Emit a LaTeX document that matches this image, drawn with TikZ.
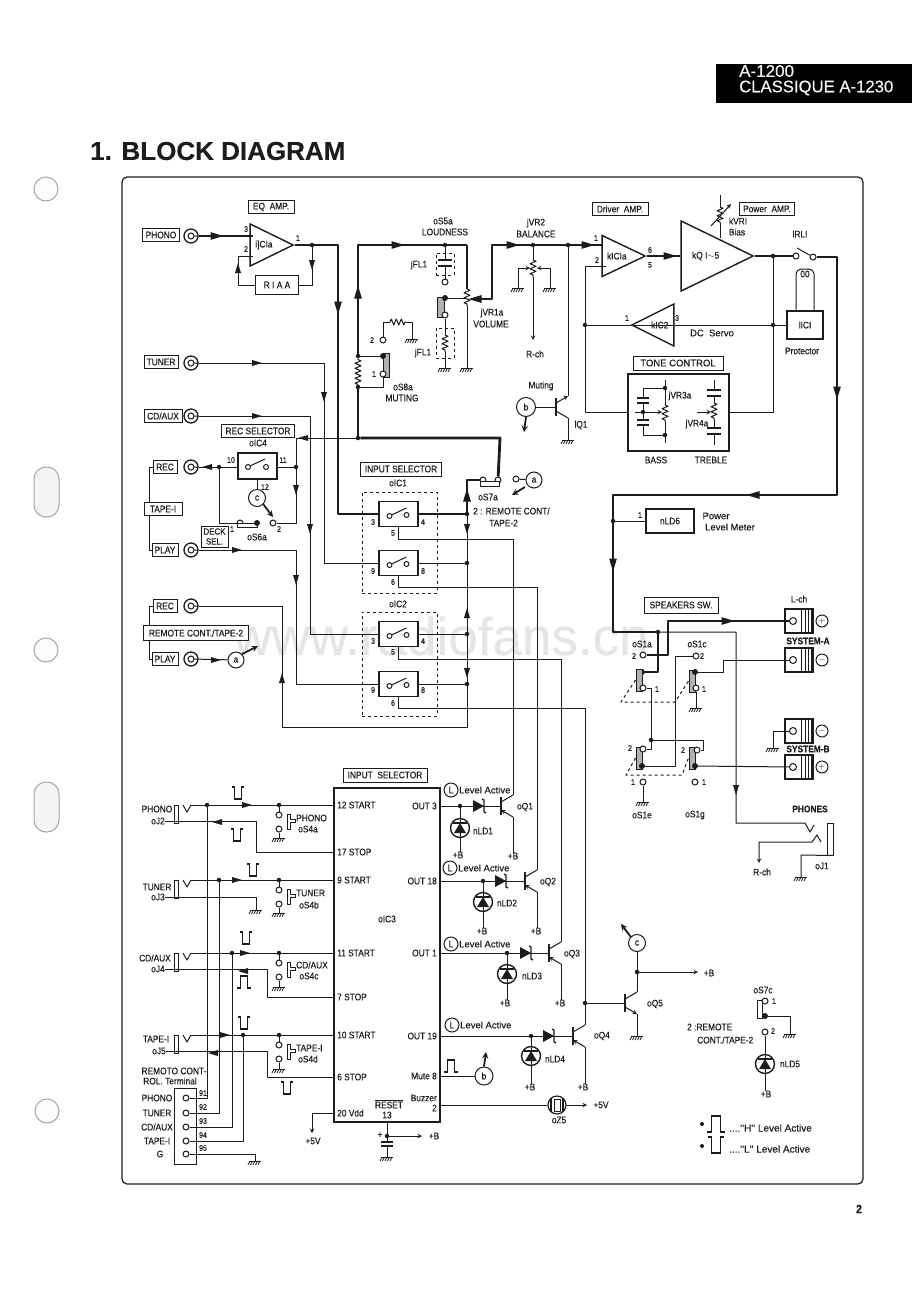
\documentclass[tikz,border=0pt]{standalone}
\usepackage{fontspec}
\setmainfont[FakeStretch=0.88,FakeBold=0.2]{Liberation Sans}
\newfontfamily\widefont[FakeBold=0.2]{Liberation Sans}
\newfontfamily\headfont[FakeBold=0.5]{Liberation Sans}
\usetikzlibrary{shapes.geometric, arrows, decorations.pathmorphing}
\newcommand{\lab}{\fontsize{9.5}{10.5}\selectfont}
\newcommand{\pinf}{\fontsize{8}{9}\selectfont}
\newcommand{\widelab}{\widefont\fontsize{9.5}{10.5}\selectfont}
\definecolor{ink}{HTML}{1C1C1C}
\tikzstyle{wire} = [line width=1pt, draw=ink, line join=round]
\tikzstyle{bus} = [line width=2.8pt, draw=ink, line join=round]
\tikzstyle{arrow} = [line width=1pt, draw=ink, ->, >=stealth]
\tikzstyle{thickarrow} = [line width=1.8pt, draw=ink, ->, >=stealth]
\tikzstyle{txt} = [font=\lab, text=ink, inner sep=0pt, align=center]
\tikzstyle{widetxt} = [font=\widelab, text=ink, inner sep=0pt, align=center]
\tikzstyle{pin} = [font=\pinf, text=ink, inner sep=0pt]
\tikzstyle{tag} = [rectangle, draw=ink, fill=white, line width=1pt, font=\lab, text=ink, inner sep=1pt, minimum height=13pt, align=center]
\tikzstyle{block} = [rectangle, draw=ink, fill=white, line width=1.8pt, font=\lab, text=ink, inner sep=0pt]
\tikzstyle{amp} = [isosceles triangle, isosceles triangle stretches, draw=ink, fill=white, line width=1.4pt, font=\lab, text=ink, inner sep=0pt, anchor=apex]
\tikzstyle{dot} = [circle, fill=ink, inner sep=0pt, minimum size=4.5pt]
\tikzstyle{bigdot} = [circle, fill=ink, inner sep=0pt, minimum size=6pt]
\tikzstyle{contact} = [circle, draw=ink, fill=white, line width=1pt, inner sep=0pt, minimum size=6pt]
\tikzstyle{jack} = [circle, draw=ink, fill=white, line width=1.3pt, inner sep=0pt, minimum size=14pt, path picture={\draw[line width=1pt] (path picture bounding box.center) circle (3) +(3,0) -- +(7,0);}]
\tikzstyle{lettered} = [circle, draw=ink, fill=white, line width=1pt, font=\lab, text=ink, inner sep=0pt]
\tikzstyle{slide} = [rectangle, draw=ink, fill=gray!60, line width=1pt, inner sep=0pt, minimum width=6pt, minimum height=22pt]
\tikzstyle{selbox} = [rectangle, draw=ink, fill=white, line width=1.8pt, inner sep=0pt, minimum width=39pt, minimum height=25pt]
\tikzstyle{hole} = [circle, draw=gray!70, fill=gray!3, line width=1pt, inner sep=0pt, minimum size=24pt]
\tikzstyle{slot} = [rectangle, rounded corners=12pt, draw=gray!70, fill=gray!8, line width=1pt, inner sep=0pt, minimum width=25pt, minimum height=50pt]
\tikzstyle{res} = [wire, decorate, decoration={zigzag, amplitude=3pt, segment length=5pt}]
\tikzstyle{pulse} = [line width=1.3pt, draw=ink]
% ground bar with hatching
\newcommand{\gnd}[2]{\coordinate (#1) at (#2);
  \draw [wire] ([shift={(-6,0)}]#1) -- ([shift={(6,0)}]#1);
  \foreach \hx in {-5,-2.5,0,2.5,5} {\draw [line width=0.7pt, draw=ink] ([shift={(\hx,0)}]#1) -- ([shift={(\hx-2,4)}]#1);}}
% small triangle sitting on a line
\newcommand{\midtip}[3][1]{\fill [ink, shift={(#2)}, rotate=#3, scale=#1] (5,0) -- (-5,-3) -- (-5,3) -- cycle;}
\newcommand{\pulseL}[2][1]{\draw [pulse, shift={(#2)}, scale=#1] (-6,-6) -- (-3.2,-6) -- (-3.2,6) -- (3.2,6) -- (3.2,-6) -- (6,-6);}
\newcommand{\pulseH}[2][1]{\draw [pulse, shift={(#2)}, scale=#1] (-7,6) -- (-3.2,6) -- (-3.2,-6) -- (3.2,-6) -- (3.2,6) -- (7,6);}
% selector switch inside its box
\newcommand{\swbox}[2]{\node (#1) [selbox] at (#2) {};
  \draw [wire] ([shift={(-9,2)}]#1.center) circle (2.5) ([shift={(8,1)}]#1.center) circle (2.5);
  \draw [wire] ([shift={(-7,1)}]#1.center) -- ([shift={(8,-6)}]#1.center);}
% transistor: #3 and #4 are the tips of collector and emitter lines
\newcommand{\npn}[4]{\coordinate (#1) at (#2);
  \coordinate (#1C) at ([shift={(12,-11)}]#1); \coordinate (#1E) at ([shift={(12,11)}]#1);
  \draw [line width=1.8pt, draw=ink] ([shift={(0,-9)}]#1) -- ([shift={(0,9)}]#1);
  \draw [wire, #3, >=stealth] ([shift={(0,-4)}]#1) -- (#1C);
  \draw [wire, #4, >=stealth] ([shift={(0,4)}]#1) -- (#1E);}
\newcommand{\zener}[2]{\coordinate (#1) at (#2);
  \fill [ink, shift={(#1)}] (-7,-6) -- (-7,6) -- (4,0) -- cycle;
  \draw [line width=1.3pt, draw=ink, shift={(#1)}] (2,-7) -- (4,-6) -- (4,6) -- (6,7);}
\newcommand{\led}[2]{\node (#1) [circle, draw=ink, line width=1.4pt, inner sep=0pt, minimum size=19pt] at (#2) {};
  \draw [wire] (#1.north) -- (#1.south);
  \fill [ink, shift={(#1)}] (-6,5) -- (6,5) -- (0,-5) -- cycle;
  \draw [line width=1.3pt, draw=ink, shift={(#1)}] (-7,-5) -- (7,-5);}
% push switch with its two contacts
\newcommand{\pushsw}[2]{\node (#1A) [contact] at ([shift={(0,10)}]#2) {};
  \node (#1B) [contact] at ([shift={(0,24)}]#2) {};
  \draw [wire, shift={(#2)}] (8,9) -- (11,9) -- (11,14) -- (16,14) -- (16,17) -- (11,17) -- (11,24) -- (8,24) -- cycle;}
% speaker terminal block
\newcommand{\spk}[2]{\node (#1) [rectangle, draw=ink, line width=1.4pt, inner sep=0pt, minimum width=28pt, minimum height=24pt] at (#2) {};
  \node (#1T) [contact, minimum size=7pt] at ([shift={(-6,0)}]#1.center) {};
  \foreach \vx in {2,6,9,12} {\draw [wire] ([shift={(\vx,-12)}]#1.center) -- ([shift={(\vx,12)}]#1.center);}}
\newcommand{\phonejack}[3]{\node (#1) [rectangle, draw=ink, line width=1pt, inner sep=0pt, minimum width=4pt, minimum height=18pt] at (#2,#3+9) {};
  \coordinate (#1T) at (191,#3); \coordinate (#1B) at (178,#3+18);
  \draw [wire] (183,#3) -- (187,#3+7) -- (191,#3);
  \draw [wire] (#1B) -- (#1.south east);}
\begin{document}
\begin{tikzpicture}[x=1pt,y=-1pt]
        \useasboundingbox (0,0) rectangle (920,1302);
        \fill [white] (0,0) rectangle (920,1302);
        \node (watermark) [font=\widefont\fontsize{53}{58}\selectfont, text=gray!20, inner sep=0pt] at (441,636) {www.radiofans.cn};
        % page furniture
        \node (holeA) [hole] at (46,189) {};
        \node (holeB) [slot] at (46.5,492) {};
        \node (holeC) [hole] at (46,650) {};
        \node (holeD) [slot] at (46.5,807) {};
        \node (holeE) [hole] at (47,1111) {};
        \node (header) [rectangle, fill=black, minimum width=196pt, minimum height=39pt, inner sep=0pt] at (814,83) {};
        \node (modelA) [anchor=west, text=gray!10, font=\headfont\fontsize{17}{18}\selectfont, inner sep=0pt] at (739,71) {A-1200};
        \node (modelB) [anchor=west, text=gray!10, font=\headfont\fontsize{16.7}{18}\selectfont, inner sep=0pt] at (739,88) {CLASSIQUE A-1230};
        \node (title) [anchor=west, text=ink, font=\widefont\fontsize{26}{30}\selectfont\bfseries, inner sep=0pt] at (90,151) {1. BLOCK DIAGRAM};
        \node (pageNo) [text=ink, font=\fontsize{12}{13}\selectfont\bfseries, inner sep=0pt] at (859,1209) {2};
        \draw [line width=1.2pt, draw=ink, rounded corners=5pt] (122,177) rectangle (863,1184);

        % input jacks and their tags
        \node (phonoBox) [tag, minimum width=37pt] at (161,235) {PHONO};
        \node (phonoJack) [jack] at (191,236) {};
        \node (tunerBox) [tag, minimum width=34pt] at (161,362) {TUNER};
        \node (tunerJack) [jack] at (191,363) {};
        \node (cdBox) [tag, minimum width=38pt] at (163,416) {CD/AUX};
        \node (cdJack) [jack] at (191,416) {};
        \node (recBox) [tag, minimum width=24pt] at (165,467) {REC};
        \node (recJack) [jack] at (191,467) {};
        \node (tapeBox) [tag, minimum width=38pt] at (163,509) {TAPE-I};
        \node (playBox) [tag, minimum width=26pt] at (165,550) {PLAY};
        \node (playJack) [jack] at (191,550) {};
        \node (recTwoBox) [tag, minimum width=24pt] at (165,606) {REC};
        \node (recTwoJack) [jack] at (191,606) {};
        \node (remoteBox) [tag, minimum width=105pt, minimum height=15pt] at (196,633) {REMOTE CONT./TAPE-2};
        \node (playTwoBox) [tag, minimum width=26pt] at (165,659) {PLAY};
        \node (playTwoJack) [jack] at (191,659) {};
        \node (circA) [lettered, minimum size=16pt] at (236,660) {a};
        \coordinate (tapeLeftA) at (149,467); \coordinate (tapeTopA) at (149,502);
        \coordinate (tapeLowA) at (149,515); \coordinate (tapeLeftB) at (149,550);
        \draw [wire] (recBox.west) -- (tapeLeftA) -- (tapeTopA);
        \draw [wire] (tapeLowA) -- (tapeLeftB) -- (playBox.west);
        \coordinate (tapeLeftC) at (149,606); \coordinate (tapeTopC) at (149,625);
        \coordinate (tapeLowC) at (149,640); \coordinate (tapeLeftD) at (149,659);
        \draw [wire] (recTwoBox.west) -- (tapeLeftC) -- (tapeTopC);
        \draw [wire] (tapeLowC) -- (tapeLeftD) -- (playTwoBox.west);
        \draw [wire] (playTwoJack) -- (circA);
        \midtip{216,660}{0}
        \coordinate (circAtip) at (258,646);
        \draw [thickarrow] (circA.north east) -- (circAtip);

        % phono amplifier
        \node (eqLabel) [tag, minimum width=46pt] at (271,207) {EQ\ \ AMP.};
        \node (eqAmp) [amp, minimum width=42pt, minimum height=43pt] at (295,245) {i]CIa};
        \coordinate (eqIn) at (253,236); \coordinate (eqFb) at (253,256);
        \node (eqOut) [dot] at (312,245) {};
        \node (riaa) [tag, minimum width=43pt, minimum height=19pt] at (277,285) {R I A A};
        \node (eqThree) [pin] at (246,229) {3};
        \node (eqTwo) [pin] at (246,249) {2};
        \node (eqOne) [pin] at (298,238) {1};
        \coordinate (busL) at (338,245);
        \coordinate (fbCorner) at (238,285);
        \draw [bus] (phonoJack) -- (eqIn);
        \midtip[1.3]{217,236}{0}
        \draw [wire] (eqOut) |- (riaa.east);
        \midtip{312,265}{270}
        \draw [wire] (riaa.west) -- (fbCorner) |- (eqFb);
        \midtip{238,268}{90}

        % selector switches
        \node (inSelLabel) [tag, minimum width=81pt, minimum height=14pt] at (401,469) {INPUT SELECTOR};
        \node (icOneLabel) [txt] at (398,483) {oIC1};
        \node (icTwoLabel) [txt] at (398,604) {oIC2};
        \node (icOneFrame) [rectangle, draw=ink, dashed, line width=1pt, minimum width=75pt, minimum height=101pt, inner sep=0pt] at (399.5,542.5) {};
        \node (icTwoFrame) [rectangle, draw=ink, dashed, line width=1pt, minimum width=75pt, minimum height=104pt, inner sep=0pt] at (399.5,664) {};
        \swbox{swA}{398.5,514}
        \swbox{swB}{398.5,563}
        \swbox{swC}{398.5,634}
        \swbox{swD}{398.5,684}
        \node (swAa) [pin] at (373,522) {3}; \node (swAb) [pin] at (423,522) {4}; \node (swAc) [pin] at (393,533) {5};
        \node (swBa) [pin] at (373,571) {9}; \node (swBb) [pin] at (423,571) {8}; \node (swBc) [pin] at (393,582) {6};
        \node (swCa) [pin] at (373,641) {3}; \node (swCb) [pin] at (423,641) {4}; \node (swCc) [pin] at (393,652) {5};
        \node (swDa) [pin] at (373,690) {9}; \node (swDb) [pin] at (423,690) {8}; \node (swDc) [pin] at (393,703) {6};
        \draw [bus] (eqAmp.apex) -- (busL) |- (swA.west);
        \midtip[1.3]{338,308}{270}
        \coordinate (tunerTurn) at (324,563);
        \coordinate (cdTurn) at (310,634);
        \coordinate (playTurn) at (296,684);
        \draw [wire] (tunerJack) -| (tunerTurn) -- (swB.west);
        \midtip{257,363}{0} \midtip{324,397}{270}
        \draw [wire] (cdJack) -| (cdTurn) -- (swC.west);
        \midtip{257,416}{0} \midtip{310,529}{270}
        \draw [wire] (playJack) -| (playTurn) -- (swD.west);
        \midtip{237,550}{0} \midtip{296,580}{270}

        % signal bus right of the selectors
        \node (busA) [dot] at (467,514) {};
        \node (busB) [dot] at (467,563) {};
        \node (busC) [dot] at (467,634) {};
        \node (busD) [dot] at (467,684) {};
        \coordinate (busTop) at (467,480);
        \coordinate (busEnd) at (467,727);
        \coordinate (recTwoTurn) at (282,727);
        \node (s7Left) [contact] at (483,480) {};
        \node (s7Right) [contact] at (498,480) {};
        \node (s7Bar) [rectangle, draw=ink, fill=white, line width=1pt, minimum width=19pt, minimum height=5pt, inner sep=0pt] at (490,484) {};
        \node (s7Label) [txt] at (488,497) {oS7a};
        \node (remoteNote) [txt, anchor=west] at (473,511) {2 : REMOTE CONT/};
        \node (remoteNoteB) [txt, anchor=west] at (489,523) {TAPE-2};
        \draw [bus] (s7Left) -- (busTop) -- (busA);
        \draw [bus] (swA.east) -- (busA);
        \midtip[1.3]{467,495}{90}
        \draw [wire] (busA) -- (busB) -- (busC) -- (busD) -- (busEnd) -- (recTwoTurn);
        \draw [wire] (recTwoJack) -| (recTwoTurn);
        \midtip{467,529}{270} \midtip{467,613}{90} \midtip{467,673}{270} \midtip{282,678}{90}
        \draw [wire] (swB.east) -- (busB);
        \draw [wire] (swC.east) -- (busC);
        \draw [wire] (swD.east) -- (busD);
        \node (sevenTipStart) [contact] at (516,479) {};
        \node (circAb) [lettered, minimum size=16pt] at (534,480) {a};
        \coordinate (sevenTip) at (512,495);
        \draw [wire] (sevenTipStart) -- (circAb);
        \coordinate (sevenStart) at (525,487);
        \draw [thickarrow] (sevenStart) -- (sevenTip);

        % loudness, volume and muting
        \coordinate (volTop) at (358,245);
        \coordinate (loudCorner) at (467,245);
        \node (muteHi) [dot] at (358,356) {};
        \node (muteLo) [dot] at (358,387) {};
        \node (volFeed) [dot] at (358,438) {};
        \coordinate (feedCorner) at (500,438);
        \coordinate (recFeedTurn) at (296,438);
        \node (loudJ) [dot] at (445,245) {};
        \node (loudTop) [txt] at (443,221) {oS5a};
        \node (loudName) [txt] at (445,232) {LOUDNESS};
        \draw [bus] (volFeed) -- (muteLo);
        \draw [res] (muteLo) -- (muteHi);
        \draw [bus] (muteHi) -- (volTop) -- (loudCorner);
        \midtip[1.3]{398,245}{0} \midtip[1.3]{358,292}{90}
        \draw [bus] (volFeed) -- (feedCorner) -- (s7Right);
        \node (flTop) [rectangle, draw=ink, dashed, line width=1pt, minimum width=18pt, minimum height=22pt, inner sep=0pt] at (445,264) {};
        \node (flLabelA) [txt] at (419,265) {jFL1};
        \node (flOpen) [contact] at (445,282) {};
        \coordinate (capTop) at (445,260); \coordinate (capBot) at (445,266);
        \draw [wire] (loudJ) -- (capTop) (capBot) -- (flOpen);
        \draw [line width=1.5pt, draw=ink] (438,260) -- (452,260) (438,266) -- (452,266);
        \node (s5Bar) [slide, minimum height=20pt, minimum width=7pt] at (441,307) {};
        \node (s5Dot) [bigdot] at (445,298) {};
        \node (s5Open) [contact] at (445,315) {};
        \node (flBot) [rectangle, draw=ink, dashed, line width=1pt, minimum width=18pt, minimum height=30pt, inner sep=0pt] at (445,343) {};
        \node (flLabelB) [txt] at (423,353) {jFL1};
        \coordinate (flResTop) at (445,335); \coordinate (flResBot) at (445,352);
        \gnd{flGnd}{445,368}
        \draw [wire] (s5Open) -- (flResTop);
        \draw [res] (flResTop) -- (flResBot);
        \draw [wire] (flResBot) -- (flGnd);
        \coordinate (volResTop) at (467,289); \coordinate (volResBot) at (467,306);
        \coordinate (volTap) at (467,298);
        \gnd{volGnd}{467,368}
        \draw [bus] (loudCorner) -- (volResTop);
        \draw [res] (volResTop) -- (volResBot);
        \draw [wire] (volResBot) -- (volGnd);
        \draw [wire] (s5Dot) -- (volTap);
        \node (volLabel) [txt] at (492,313) {jVR1a};
        \node (volName) [txt] at (491,324) {VOLUME};
        \coordinate (volWiper) at (492,299); \coordinate (volUp) at (492,245);
        \coordinate (balJoin) at (606,245);
        \coordinate (volTipEnd) at (475,299);
        \draw [bus] (balJoin) -- (volUp) -- (volWiper) -- (volTipEnd);
        \midtip[1.3]{475,299}{180}
        \midtip[1.3]{513,245}{0} \midtip[1.3]{588,245}{0}
        \node (muteBar) [slide, minimum height=24pt, minimum width=6pt] at (386,365) {};
        \node (muteDot) [bigdot] at (383,356) {};
        \node (muteOne) [contact] at (383,374) {};
        \node (muteTwo) [contact] at (383,340) {};
        \node (mutePinA) [pin] at (374,374) {1};
        \node (mutePinB) [pin] at (372,340) {2};
        \draw [wire] (muteHi) -- (muteDot);
        \coordinate (muteLoTurn) at (383,387);
        \draw [wire] (muteOne) -- (muteLoTurn) -- (muteLo);
        \coordinate (muteUp) at (383,322); \coordinate (muteResA) at (390,322); \coordinate (muteResB) at (406,322); \coordinate (muteDrop) at (412,322);
        \gnd{muteGnd}{412,339}
        \draw [wire] (muteTwo) -- (muteUp) -- (muteResA);
        \draw [res] (muteResA) -- (muteResB);
        \draw [wire] (muteResB) -- (muteDrop) -- (muteGnd);
        \node (s8Label) [txt] at (403,387) {oS8a};
        \node (s8Name) [txt] at (402,398) {MUTING};

        % rec selector
        \node (recSelLabel) [tag, minimum width=73pt, minimum height=13pt] at (258,431) {REC SELECTOR};
        \node (icFourLabel) [txt] at (258,443) {oIC4};
        \node (recSel) [selbox, minimum height=26pt] at (257.5,466) {};
        \draw [wire] (248,467) circle (2.5) (266,467) circle (2.5);
        \draw [wire] (250,466) -- (265,459);
        \node (recTen) [pin] at (231,460) {10};
        \node (recEleven) [pin] at (283,460) {11};
        \node (recTwelve) [pin] at (265,487) {12};
        \node (circC) [lettered, minimum size=17pt] at (257,498) {c};
        \node (recJ) [dot] at (219,467) {};
        \node (recFeedJ) [dot] at (296,467) {};
        \draw [wire] (recSel.west |- recJ) -- (recJ) -- (recJack);
        \midtip{207,467}{180}
        \draw [wire] (recSel.east |- recFeedJ) -- (recFeedJ);
        \draw [wire] (recSel.south -| circC) -- (circC);
        \draw [wire] (volFeed) -- (recFeedTurn) -- (recFeedJ);
        \midtip{303,438}{180} \midtip{296,490}{270}
        \node (s6One) [contact] at (240,523) {};
        \node (s6Two) [contact] at (273,523) {};
        \node (s6Bar) [rectangle, draw=ink, fill=white, line width=1pt, minimum width=20pt, minimum height=4pt, inner sep=0pt] at (247,525) {};
        \node (s6Dot) [bigdot] at (257,523) {};
        \node (s6PinA) [pin] at (232,529) {1};
        \node (s6PinB) [pin] at (279,529) {2};
        \node (s6Label) [txt] at (257,537) {oS6a};
        \node (deckBox) [tag, minimum width=27pt, minimum height=21pt, font=\fontsize{9}{10}\selectfont] at (214.5,536.5) {DECK\\SEL.};
        \coordinate (s6Turn) at (219,523); \coordinate (s6Right) at (296,523);
        \draw [wire] (recJ) -- (s6Turn) -- (s6One);
        \draw [wire] (recFeedJ) -- (s6Right) -- (s6Two);
        \coordinate (circCtip) at (273,517);
        \draw [thickarrow] (circC.south east) -- (circCtip);

        % balance, driver and power stages
        \node (balJ) [dot] at (533,245) {};
        \node (muteJ) [dot] at (568,245) {};
        \node (balLabel) [txt] at (536,223) {jVR2};
        \node (balName) [txt] at (536,234) {BALANCE};
        \coordinate (balResTop) at (533,260); \coordinate (balResBot) at (533,277);
        \coordinate (balOut) at (533,340);
        \gnd{balGndA}{518,288} \gnd{balGndB}{550,288}
        \node (balCh) [txt] at (535,354) {R-ch};
        \draw [wire] (balJ) -- (balResTop);
        \draw [res] (balResTop) -- (balResBot);
        \draw [arrow] (balResBot) -- (balOut);
        \coordinate (balTapA) at (530,268); \coordinate (balTapB) at (537,268);
        \draw [arrow] (balGndA) |- (balTapA);
        \draw [arrow] (balGndB) |- (balTapB);
        \node (driverLabel) [tag, minimum width=56pt] at (620,209) {Driver\ \ AMP.};
        \node (powerLabel) [tag, minimum width=55pt] at (767,209) {Power\ \ AMP.};
        \node (driverAmp) [amp, minimum width=41pt, minimum height=43pt] at (647,256) {kICIa};
        \node (drPinA) [pin] at (596,238) {1};
        \node (drPinB) [pin] at (597,260) {2};
        \node (drPinC) [pin] at (650,250) {6};
        \node (drPinD) [pin] at (650,265) {5};
        \node (powerAmp) [amp, minimum width=70pt, minimum height=72pt] at (755,256) {kQ I$\sim$5};
        \draw [bus] (driverAmp.apex) -- (powerAmp.west |- driverAmp.apex);
        \midtip[1.3]{670,256}{0}
        \coordinate (bTop) at (720,195); \coordinate (bResA) at (720,207); \coordinate (bResB) at (720,223); \coordinate (bBot) at (720,238);
        \coordinate (bArrowA) at (711,226); \coordinate (bArrowB) at (731,204);
        \draw [wire] (bTop) -- (bResA); \draw [res] (bResA) -- (bResB); \draw [wire] (bResB) -- (bBot);
        \draw [arrow] (bArrowA) -- (bArrowB);
        \node (bLabel) [txt] at (738,221) {kVRI};
        \node (bName) [txt] at (737,232) {Bias};
        \node (outJ) [dot] at (773,256) {};
        \node (rlyA) [contact] at (796,256) {};
        \node (rlyB) [contact] at (813,257) {};
        \coordinate (rlyArm) at (797,248);
        \draw [bus] (powerAmp.apex) -- (rlyA);
        \draw [wire] (rlyB) -- (rlyArm);
        \node (rlyLabel) [txt] at (800,234) {lRLI};
        \node (prot) [block, minimum width=36pt, minimum height=28pt] at (805,325) {lICI};
        \node (protName) [txt] at (802,351) {Protector};
        \draw [wire, rounded corners=5pt] (796,311) -- (796,269) -- (814,269) -- (814,311);
        \node (coil) [txt] at (805,274) {00};
        \coordinate (mainA) at (837,257); \coordinate (mainB) at (837,495); \coordinate (mainC) at (613,495); \coordinate (mainD) at (613,632);
        \coordinate (mainE) at (658,672);
        \node (nld6J) [dot] at (613,521) {};
        \node (spkJ) [dot] at (658,632) {};
        \node (s1aDot) [bigdot] at (642,672) {};
        \draw [bus] (rlyB) -- (mainA) -- (mainB) -- (mainC) -- (mainD) -- (spkJ) -- (mainE) -- (s1aDot);
        \midtip[1.3]{837,393}{270} \midtip[1.3]{753,495}{180} \midtip[1.3]{613,565}{270}

        % dc servo and tone stack
        \node (servoAmp) [amp, shape border rotate=180, minimum width=42pt, minimum height=42pt] at (630,325) {kIC2};
        \node (svPinA) [pin] at (627,318) {1};
        \node (svPinB) [pin] at (677,318) {3};
        \node (svName) [widetxt] at (712,333) {DC\ \ Servo};
        \node (fbJ) [dot] at (585,325) {};
        \node (servoJ) [dot] at (773,325) {};
        \draw [wire] (servoAmp.apex) -- (fbJ);
        \draw [wire] (prot.west) -- (servoJ) -- (servoAmp.west |- servoJ);
        \node (toneBox) [block, minimum width=101pt, minimum height=77pt] at (678.5,412.5) {};
        \node (toneLabel) [tag, minimum width=90pt, minimum height=14pt, font=\widelab] at (678,363) {TONE CONTROL};
        \node (bassName) [txt] at (656,460) {BASS};
        \node (trebleName) [txt] at (711,460) {TREBLE};
        \coordinate (drFb) at (606,266); \coordinate (drFbTurn) at (585,266);
        \draw [wire] (drFb) -- (drFbTurn) -- (fbJ) |- (toneBox.west);
        \draw [wire] (outJ) -- (servoJ) |- (toneBox.east);
        \node (bassTop) [dot] at (665,388) {};
        \node (bassBot) [dot] at (665,435) {};
        \node (bassMid) [dot] at (643,412) {};
        \coordinate (bassUp) at (665,380); \coordinate (bassDown) at (665,443);
        \coordinate (bassResA) at (665,405); \coordinate (bassResB) at (665,422);
        \coordinate (bassCapA) at (643,388); \coordinate (bassCapB) at (643,435);
        \draw [wire] (bassUp) -- (bassTop) -- (bassResA);
        \draw [res] (bassResA) -- (bassResB);
        \draw [wire] (bassResB) -- (bassBot) -- (bassDown);
        \draw [wire] (bassTop) -- (bassCapA) -- (643,398) (643,403) -- (bassMid) -- (643,420) (643,425) -- (bassCapB) -- (bassBot);
        \draw [line width=1.5pt, draw=ink] (637,398) -- (649,398) (637,403) -- (649,403) (637,420) -- (649,420) (637,425) -- (649,425);
        \coordinate (bassIn) at (635,412); \coordinate (bassTip) at (662,412);
        \draw [arrow] (bassIn) -- (bassTip);
        \node (bassLabel) [txt] at (680,396) {jVR3a};
        \coordinate (trebA) at (714,380); \coordinate (trebB) at (714,403); \coordinate (trebC) at (714,420); \coordinate (trebD) at (714,445);
        \draw [wire] (trebA) -- (714,390) (714,396) -- (trebB);
        \draw [res] (trebB) -- (trebC);
        \draw [wire] (trebC) -- (714,428) (714,434) -- (trebD);
        \draw [line width=1.5pt, draw=ink] (707,390) -- (721,390) (707,396) -- (721,396) (707,428) -- (721,428) (707,434) -- (721,434);
        \coordinate (trebIn) at (697,412); \coordinate (trebTip) at (711,412);
        \draw [arrow] (trebIn) -- (trebTip);
        \node (trebLabel) [txt] at (697,424) {jVR4a};

        % muting transistor
        \node (circB) [lettered, minimum size=19pt] at (526,407) {b};
        \npn{qMute}{556,407}{->}{}
        \gnd{qMuteGnd}{568,440}
        \draw [wire] (circB) -- (qMute);
        \draw [wire] (qMuteC) -- (muteJ);
        \draw [wire] (qMuteE) -- (qMuteGnd);
        \coordinate (circBtip) at (524,432);
        \draw [thickarrow] (circB.south) -- (circBtip);
        \node (muteName) [txt] at (541,386) {Muting};
        \node (qMuteName) [txt] at (581,425) {lQ1};

        % level meter and speakers
        \node (meter) [tag, line width=1.4pt, minimum width=48pt, minimum height=24pt] at (670,521) {nLD6};
        \node (meterPin) [pin] at (640,515) {1};
        \draw [wire] (nld6J) -- (meter.west);
        \node (meterA) [widetxt] at (716,516) {Power};
        \node (meterB) [widetxt] at (730,527) {Level Meter};
        \node (speakLabel) [tag, minimum width=74pt, minimum height=16pt] at (681,605) {SPEAKERS SW.};
        \node (lChName) [txt] at (799,599) {L-ch};
        \node (sysA) [txt, font=\lab\bfseries] at (808,641) {SYSTEM-A};
        \node (sysB) [txt, font=\lab\bfseries] at (808,749) {SYSTEM-B};
        \spk{spkAp}{799,621}
        \spk{spkAm}{799,660}
        \spk{spkBm}{799,731}
        \spk{spkBp}{799,767}
        \node (signAp) [lettered, minimum size=12pt] at (822,621) {$+$};
        \node (signAm) [lettered, minimum size=12pt] at (822,660) {$-$};
        \node (signBm) [lettered, minimum size=12pt] at (822,731) {$-$};
        \node (signBp) [lettered, minimum size=12pt] at (822,767) {$+$};
        \node (s1aBar) [slide] at (639,680) {};
        \node (s1cBar) [slide] at (692,681) {};
        \node (s1eBar) [slide] at (639,758) {};
        \node (s1gBar) [slide] at (692,758) {};
        \node (s1aOn) [contact] at (643,655) {};
        \node (s1aOff) [contact] at (643,688) {};
        \node (s1cDot) [bigdot] at (695,672) {};
        \node (s1cOn) [contact] at (696,656) {};
        \node (s1cOff) [contact] at (696,688) {};
        \node (s1eDot) [bigdot] at (642,766) {};
        \node (s1eOn) [contact] at (643,749) {};
        \node (s1eOff) [contact] at (643,782) {};
        \node (s1gDot) [bigdot] at (695,766) {};
        \node (s1gOn) [contact] at (697,750) {};
        \node (s1gOff) [contact] at (695,782) {};
        \node (s1Mid) [dot] at (651,740) {};
        \node (s1aLabel) [txt] at (642,644) {oS1a};
        \node (s1cLabel) [txt] at (697,644) {oS1c};
        \node (s1eLabel) [txt] at (642,815) {oS1e};
        \node (s1gLabel) [txt] at (695,815) {oS1g};
        \node (s1aPinA) [pin] at (634,656) {2}; \node (s1aPinB) [pin] at (657,689) {1};
        \node (s1cPinA) [pin] at (702,656) {2}; \node (s1cPinB) [pin] at (704,689) {1};
        \node (s1ePinA) [pin] at (630,748) {2}; \node (s1ePinB) [pin] at (633,782) {1};
        \node (s1gPinA) [pin] at (683,750) {2}; \node (s1gPinB) [pin] at (704,782) {1};
        \coordinate (spkTurn) at (668,621);
        \draw [bus] (s1aOn) -| (spkTurn) -- (spkApT);
        \midtip[1.3]{728,621}{0}
        \coordinate (aMinusTurn) at (723,672);
        \draw [wire] (spkAmT) -| (aMinusTurn) -- (s1cDot);
        \coordinate (crossTurn) at (675,766);
        \draw [wire] (s1cOn) -| (crossTurn) -- (s1eDot);
        \coordinate (gTurn) at (703,750);
        \draw [wire] (s1aOff) -| (s1Mid) |- (s1eOn);
        \draw [wire] (s1Mid) -| (gTurn) -- (s1gOn);
        \gnd{s1cGnd}{696,708} \gnd{s1eGnd}{643,802}
        \draw [wire] (s1cOff) -- (s1cGnd);
        \draw [wire] (s1eOff) -- (s1eGnd);
        \draw [wire] (s1gDot) -- (spkBpT);
        \coordinate (bMinusTurn) at (773,731);
        \gnd{bMinusGnd}{773,748}
        \draw [wire] (spkBmT) -- (bMinusTurn) -- (bMinusGnd);
        \coordinate (linkA) at (621,702); \coordinate (linkB) at (675,702);
        \coordinate (linkC) at (626,775); \coordinate (linkD) at (682,775);
        \draw [wire, dashed] (s1aBar.west) -- (linkA) -- (linkB) -- (s1cBar.west);
        \draw [wire, dashed] (s1eBar.west) -- (linkC) -- (linkD) -- (s1gBar.west);
        % headphones
        \node (phonesName) [txt, font=\lab\bfseries] at (810,809) {PHONES};
        \coordinate (phoneIn) at (736,823); \coordinate (phoneA) at (805,823); \coordinate (phoneB) at (810,832); \coordinate (phoneC) at (814,825);
        \draw [wire] (spkJ) -| (phoneIn) -- (phoneA) -- (phoneB) -- (phoneC);
        \midtip{736,790}{270}
        \coordinate (rChTurn) at (759,842); \coordinate (rChEnd) at (759,863);
        \coordinate (phoneD) at (812,842); \coordinate (phoneE) at (817,835); \coordinate (phoneF) at (821,842);
        \draw [arrow] (phoneF) -- (phoneE) -- (phoneD) -- (rChTurn) -- (rChEnd);
        \node (rChName) [txt] at (762,872) {R-ch};
        \node (phoneBody) [rectangle, draw=ink, line width=1pt, inner sep=0pt, minimum width=6pt, minimum height=32pt] at (830,839) {};
        \coordinate (sleeveTurn) at (801,855);
        \gnd{sleeveGnd}{801,877}
        \draw [wire] (phoneBody.south east) -- (sleeveTurn) -- (sleeveGnd);
        \node (j1Name) [txt] at (822,866) {oJ1};

        % system control ic
        \node (ctlLabel) [tag, minimum width=84pt, minimum height=14pt] at (385,775) {INPUT\ \ SELECTOR};
        \node (ic3) [block, minimum width=106pt, minimum height=334pt] at (387,955) {};
        \node (ic3Name) [txt] at (387,919) {oIC3};
        \node (pStartA) [txt, anchor=west] at (337,805) {12 START};
        \node (pStopA) [txt, anchor=west] at (337,852) {17 STOP};
        \node (pStartB) [txt, anchor=west] at (337,880) {9 START};
        \node (pStartC) [txt, anchor=west] at (337,953) {11 START};
        \node (pStopC) [txt, anchor=west] at (337,997) {7 STOP};
        \node (pStartD) [txt, anchor=west] at (337,1035) {10 START};
        \node (pStopD) [txt, anchor=west] at (337,1077) {6 STOP};
        \node (pVdd) [txt, anchor=west] at (337,1113) {20 Vdd};
        \node (pOutA) [txt, anchor=east] at (437,806) {OUT 3};
        \node (pOutB) [txt, anchor=east] at (437,881) {OUT 18};
        \node (pOutC) [txt, anchor=east] at (437,953) {OUT 1};
        \node (pOutD) [txt, anchor=east] at (437,1036) {OUT 19};
        \node (pMute) [txt, anchor=east] at (437,1076) {Mute 8};
        \node (pBuzz) [txt, anchor=east] at (437,1098) {Buzzer};
        \node (pBuzzB) [txt, anchor=east] at (437,1108) {2};
        \node (pReset) [txt] at (389,1104) {$\overline{\mbox{RESET}}$};
        \node (pResetB) [txt] at (387,1115) {13};

        % remote terminal and pushbutton jacks
        \phonejack{jTwo}{176}{805}
        \phonejack{jThree}{176}{880}
        \phonejack{jFour}{176}{953}
        \phonejack{jFive}{176}{1035}
        \node (jTwoA) [txt] at (157,809) {PHONO}; \node (jTwoB) [txt] at (158,821) {oJ2};
        \node (jThreeA) [txt] at (157,887) {TUNER}; \node (jThreeB) [txt] at (158,897) {oJ3};
        \node (jFourA) [txt] at (155,958) {CD/AUX}; \node (jFourB) [txt] at (158,969) {oJ4};
        \node (jFiveA) [txt] at (156,1039) {TAPE-I}; \node (jFiveB) [txt] at (159,1051) {oJ5};
        \node (remA) [txt] at (174,1071) {REMOTO CONT-};
        \node (remB) [txt] at (170,1081) {ROL. Terminal};
        \node (termBox) [rectangle, draw=ink, line width=1pt, minimum width=22pt, minimum height=76pt, inner sep=0pt] at (185,1126) {};
        \node (termA) [contact] at (186,1098) {}; \node (termAn) [txt] at (157,1098) {PHONO}; \node (termAp) [pin] at (203,1093) {91};
        \node (termB) [contact] at (186,1113) {}; \node (termBn) [txt] at (157,1113) {TUNER}; \node (termBp) [pin] at (203,1107) {92};
        \node (termC) [contact] at (186,1127) {}; \node (termCn) [txt] at (157,1127) {CD/AUX}; \node (termCp) [pin] at (203,1121) {93};
        \node (termD) [contact] at (186,1141) {}; \node (termDn) [txt] at (157,1141) {TAPE-I}; \node (termDp) [pin] at (203,1135) {94};
        \node (termE) [contact] at (186,1154) {}; \node (termEn) [txt] at (160,1154) {G}; \node (termEp) [pin] at (203,1148) {95};
        \node (lineA) [dot] at (207,805) {};
        \node (lineB) [dot] at (219,880) {};
        \node (lineC) [dot] at (232,953) {};
        \node (lineD) [dot] at (243,1035) {};
        \node (pressA) [dot] at (279,805) {};
        \node (pressB) [dot] at (279,880) {};
        \node (pressC) [dot] at (279,953) {};
        \node (pressD) [dot] at (279,1035) {};
        \draw [wire] (jTwoT) -- (jTwoT -| ic3.west);
        \draw [wire] (jThreeT) -- (jThreeT -| ic3.west);
        \draw [wire] (jFourT) -- (jFourT -| ic3.west);
        \draw [wire] (jFiveT) -- (jFiveT -| ic3.west);
        \midtip{247,805}{0} \midtip{237,880}{0} \midtip{245,953}{0} \midtip{225,1035}{0}
        \draw [wire] (termA) -| (lineA);
        \draw [wire] (termB) -| (lineB);
        \draw [wire] (termC) -| (lineC);
        \draw [wire] (termD) -| (lineD);
        \gnd{termGnd}{255,1161}
        \draw [wire] (termE) -| (termGnd);
        \coordinate (stopTurnA) at (256,852); \coordinate (stopTurnC) at (267,997); \coordinate (stopTurnD) at (267,1077);
        \draw [wire] (jTwoB) -| (stopTurnA) -- (stopTurnA -| ic3.west);
        \midtip{217,822}{180}
        \gnd{jThreeGnd}{256,910}
        \draw [wire] (jThreeB) -| (jThreeGnd);
        \draw [wire] (jFourB) -| (stopTurnC) -- (stopTurnC -| ic3.west);
        \midtip{243,971}{180}
        \draw [wire] (jFiveB) -| (stopTurnD) -- (stopTurnD -| ic3.west);
        \midtip{213,1053}{180}
        \pushsw{pushA}{279,805}
        \pushsw{pushB}{279,880}
        \pushsw{pushC}{279,953}
        \pushsw{pushD}{279,1035}
        \gnd{pushAg}{279,838} \gnd{pushBg}{279,913} \gnd{pushCg}{279,987} \gnd{pushDg}{279,1069}
        \draw [wire] (pressA) -- (pushAA) (pushAB) -- (pushAg);
        \draw [wire] (pressB) -- (pushBA) (pushBB) -- (pushBg);
        \draw [wire] (pressC) -- (pushCA) (pushCB) -- (pushCg);
        \draw [wire] (pressD) -- (pushDA) (pushDB) -- (pushDg);
        \node (pushAn) [txt, anchor=west] at (296,818) {PHONO}; \node (pushAm) [txt] at (308,829) {oS4a};
        \node (pushBn) [txt, anchor=west] at (296,893) {TUNER}; \node (pushBm) [txt] at (309,905) {oS4b};
        \node (pushCn) [txt, anchor=west] at (296,965) {CD/AUX}; \node (pushCm) [txt] at (309,976) {oS4c};
        \node (pushDn) [txt, anchor=west] at (296,1048) {TAPE-I}; \node (pushDm) [txt] at (308,1059) {oS4d};
        \pulseL{238,793} \pulseL{237,835} \pulseL{253,870} \pulseL{246,938} \pulseH{244,982} \pulseL{244,1023} \pulseL{287,1088}
        \coordinate (vddTurn) at (312,1113); \coordinate (vddEnd) at (312,1133);
        \draw [arrow] (vddTurn -| ic3.west) -- (vddTurn) -- (vddEnd);
        \node (fiveA) [txt] at (313,1141) {+5V};
        \node (resetJ) [dot] at (387,1136) {};
        \node (plusCap) [txt] at (380,1135) {+};
        \node (plusBa) [txt] at (434,1136) {+B};
        \draw [wire] (ic3.south) -- (resetJ) -- (387,1142) (387,1146) -- (387,1157);
        \draw [line width=1.5pt, draw=ink] (381,1142) -- (393,1142) (381,1146) -- (393,1146);
        \coordinate (resetTip) at (422,1136);
        \draw [arrow] (resetJ) -- (resetTip);
        \gnd{resetGnd}{387,1157}

        % output transistors with their leds
        \node (lvlA) [lettered, minimum size=14pt] at (451,790) {L}; \node (lvlAt) [widetxt, anchor=west] at (459,790) {Level Active};
        \node (lvlB) [lettered, minimum size=14pt] at (450,868) {L}; \node (lvlBt) [widetxt, anchor=west] at (458,868) {Level Active};
        \node (lvlC) [lettered, minimum size=14pt] at (451,944) {L}; \node (lvlCt) [widetxt, anchor=west] at (459,944) {Level Active};
        \node (lvlD) [lettered, minimum size=14pt] at (452,1025) {L}; \node (lvlDt) [widetxt, anchor=west] at (460,1025) {Level Active};
        \node (outA) [dot] at (460,806) {};
        \node (outB) [dot] at (483,881) {};
        \node (outC) [dot] at (507,953) {};
        \node (outD) [dot] at (531,1036) {};
        \npn{qA}{501,806}{}{<-}
        \npn{qB}{525,881}{}{<-}
        \npn{qC}{549,953}{}{<-}
        \npn{qD}{573,1036}{}{<-}
        \draw [wire] (outA -| ic3.east) -- (outA) -- (qA);
        \draw [wire] (outB -| ic3.east) -- (outB) -- (qB);
        \draw [wire] (outC -| ic3.east) -- (outC) -- (qC);
        \draw [wire] (outD -| ic3.east) -- (outD) -- (qD);
        \zener{diodeA}{480,806}
        \zener{diodeB}{502,881}
        \zener{diodeC}{527,953}
        \zener{diodeD}{550,1036}
        \led{ledA}{460,828}
        \led{ledB}{483,902}
        \led{ledC}{507,974}
        \led{ledD}{531,1056}
        \node (bLedA) [txt] at (458,855) {+B}; \node (bLedB) [txt] at (482,931) {+B}; \node (bLedC) [txt] at (505,1003) {+B}; \node (bLedD) [txt] at (530,1087) {+B};
        \node (bQa) [txt] at (513,856) {+B}; \node (bQb) [txt] at (536,931) {+B}; \node (bQc) [txt] at (560,1003) {+B}; \node (bQd) [txt] at (583,1087) {+B};
        \draw [wire] (outA) -- (ledA) -- (bLedA.north -| ledA);
        \draw [wire] (outB) -- (ledB) -- (bLedB.north -| ledB);
        \draw [wire] (outC) -- (ledC) -- (bLedC.north -| ledC);
        \draw [wire] (outD) -- (ledD) -- (bLedD.north -| ledD);
        \draw [wire] (qAE) -- (bQa.north -| qAE);
        \draw [wire] (qBE) -- (bQb.north -| qBE);
        \draw [wire] (qCE) -- (bQc.north -| qCE);
        \draw [wire] (qDE) -- (bQd.north -| qDE);
        \node (nameQa) [txt] at (525,807) {oQ1}; \node (nameQb) [txt] at (548,882) {oQ2}; \node (nameQc) [txt] at (572,954) {oQ3}; \node (nameQd) [txt] at (602,1036) {oQ4};
        \node (nameLa) [txt] at (483,831) {nLD1}; \node (nameLb) [txt] at (507,903) {nLD2}; \node (nameLc) [txt] at (532,976) {nLD3}; \node (nameLd) [txt] at (555,1059) {nLD4};
        \coordinate (turnA) at (513,539); \coordinate (turnB) at (537,587); \coordinate (turnC) at (561,659); \coordinate (turnD) at (585,708);
        \draw [wire] (swA.south) |- (turnA) -- (qAC);
        \draw [wire] (swB.south) |- (turnB) -- (qBC);
        \draw [wire] (swC.south) |- (turnC) -- (qCC);
        \draw [wire] (swD.south) |- (turnD) -- (qDC);
        % q5 and its load
        \node (qFiveJ) [dot] at (585,1003) {};
        \npn{qE}{625,1003}{}{->}
        \draw [wire] (qFiveJ) -- (qE);
        \node (relayJ) [dot] at (637,972) {};
        \node (circCb) [lettered, minimum size=17pt] at (637,943) {c};
        \draw [wire] (qEC) -- (relayJ) -- (circCb);
        \coordinate (circCbTip) at (621,924);
        \draw [thickarrow] (circCb.north west) -- (circCbTip);
        \coordinate (relayTip) at (698,972);
        \node (plusBb) [txt] at (709,973) {+B};
        \draw [arrow] (relayJ) -- (relayTip);
        \gnd{qEGnd}{637,1036}
        \draw [wire] (qEE) -- (qEGnd);
        \node (nameQe) [txt] at (655,1004) {oQ5};
        % remote led
        \node (s7cLabel) [txt] at (763,990) {oS7c};
        \node (s7cBar) [slide, minimum height=18pt, minimum width=5pt, fill=white] at (760,1009) {};
        \node (s7cOne) [contact] at (765,1001) {}; \node (s7cOneN) [pin] at (774,1001) {1};
        \node (s7cDot) [bigdot] at (765,1016) {};
        \node (s7cTwo) [contact] at (765,1032) {}; \node (s7cTwoN) [pin] at (773,1031) {2};
        \coordinate (s7cTurn) at (790,1016);
        \gnd{s7cGnd}{790,1034}
        \draw [wire] (s7cDot) -- (s7cTurn) -- (s7cGnd);
        \node (noteRemA) [txt, anchor=west] at (687,1027) {2 :REMOTE};
        \node (noteRemB) [txt, anchor=west] at (697,1040) {CONT./TAPE-2};
        \led{ledE}{765,1064}
        \node (bLedE) [txt] at (766,1094) {+B};
        \node (nameLe) [txt] at (790,1064) {nLD5};
        \draw [wire] (s7cTwo) -- (ledE) -- (bLedE.north -| ledE);
        % mute and buzzer outputs
        \node (circBb) [lettered, minimum size=18pt] at (484,1076) {b};
        \draw [wire] (circBb -| ic3.east) -- (circBb);
        \coordinate (circBbTip) at (486,1052);
        \draw [thickarrow] (circBb.north) -- (circBbTip);
        \pulseH{451,1066}
        \node (buzzer) [circle, draw=ink, line width=1.2pt, inner sep=0pt, minimum size=18pt] at (557,1105) {};
        \draw [line width=1.2pt, draw=ink] (551,1098) -- (551,1112) (563,1098) -- (563,1112);
        \draw [wire] (554,1099) rectangle (560,1111);
        \node (buzzName) [txt] at (559,1120) {oZ5};
        \draw [wire] (buzzer -| ic3.east) -- (buzzer.west);
        \coordinate (buzzTip) at (587,1105);
        \node (fiveB) [txt] at (601,1105) {+5V};
        \draw [arrow] (buzzer.east) -- (buzzTip);
        % legend
        \node (starH) [bigdot, minimum size=4pt] at (702,1124) {};
        \node (starL) [bigdot, minimum size=4pt] at (702,1146) {};
        \pulseH[1.35]{716,1124}
        \pulseL[1.35]{716,1145}
        \node (legH) [widetxt, anchor=west, font=\widefont\fontsize{10}{11}\selectfont] at (729,1128) {....''H'' Level Active};
        \node (legL) [widetxt, anchor=west, font=\widefont\fontsize{10}{11}\selectfont] at (729,1149) {....''L'' Level Active};
    \end{tikzpicture}
\end{document}
